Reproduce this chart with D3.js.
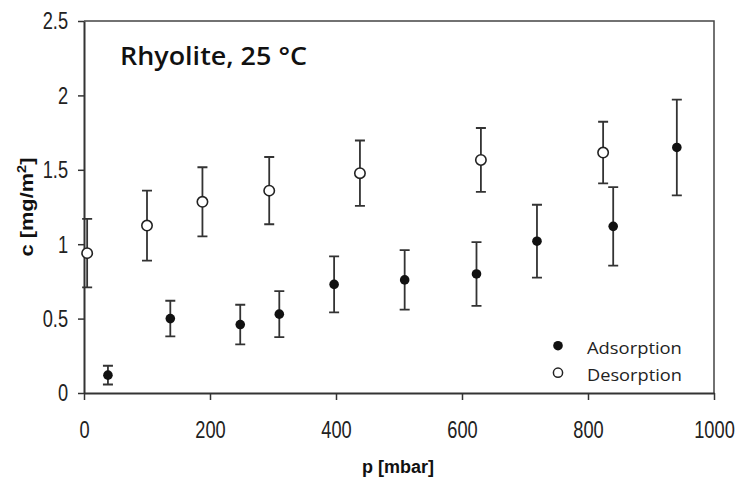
<!DOCTYPE html>
<html>
<head>
<meta charset="utf-8">
<script src="https://cdn.jsdelivr.net/npm/d3@7"></script>
<style>
  html, body { margin: 0; padding: 0; background: #fff; }
  svg { display: block; }
</style>
</head>
<body>
<svg id="chart" width="739" height="485"></svg>
<script>
// Adsorption isotherm (filled markers)
const adsP   = [38, 137, 248, 310, 397, 509, 623, 719, 840, 941];
const adsC   = [0.12, 0.50, 0.46, 0.53, 0.73, 0.76, 0.80, 1.02, 1.12, 1.65];
const adsErr = [0.063, 0.12, 0.133, 0.155, 0.188, 0.20, 0.214, 0.245, 0.264, 0.322];

// Desorption branch (open markers)
const desP   = [5, 100, 188, 294, 438, 630, 824];
const desC   = [0.94, 1.125, 1.285, 1.36, 1.477, 1.566, 1.616];
const desErr = [0.23, 0.235, 0.232, 0.226, 0.22, 0.215, 0.207];

const xTicks = [0, 200, 400, 600, 800, 1000];
const yTicks = [0, 0.5, 1, 1.5, 2, 2.5];
const yTickLabels = ["0", "0.5", "1", "1.5", "2", "2.5"];

const titleText = "Rhyolite, 25 \u00B0C";
const legendLabels = ["Adsorption", "Desorption"];

const ink = "#222";
const plotL = 84, plotT = 21, plotR = 714, plotB = 393;

const svg = d3.select("#chart");
const x = d3.scaleLinear().domain([0, 1000]).range([plotL, plotR]);
const y = d3.scaleLinear().domain([0, 2.5]).range([plotB, plotT]);

// Squeeze a text element horizontally to a given width, about an anchor x
function fitWidth(sel, w, ax) {
  const n = sel.node();
  const len = n.getComputedTextLength();
  const s = w / len;
  sel.attr("transform", `translate(${ax},0) scale(${s},1) translate(${-ax},0)`);
}

// Frame: top and right border lines
svg.append("path")
  .attr("d", `M${plotL},${plotT}H${plotR}V${plotB}`)
  .attr("fill", "none").attr("stroke", "#444").attr("stroke-width", 1.5);

// Axes
const xAxis = svg.append("g")
  .attr("transform", `translate(0,${plotB})`)
  .call(d3.axisBottom(x).tickValues(xTicks).tickSize(7).tickSizeOuter(0).tickPadding(21).tickFormat(d3.format("d")));
const yAxis = svg.append("g")
  .attr("transform", `translate(${plotL},0)`)
  .call(d3.axisLeft(y).tickValues(yTicks).tickSize(6).tickSizeOuter(0).tickPadding(15)
    .tickFormat((d, i) => yTickLabels[i]));

[xAxis, yAxis].forEach(g => {
  g.select(".domain").attr("stroke", "#333").attr("stroke-width", 2);
  g.selectAll(".tick line").attr("stroke", "#333").attr("stroke-width", 1.5);
  g.selectAll(".tick text")
    .attr("fill", ink)
    .style("font-family", "'Liberation Sans', Arial, sans-serif")
    .style("font-size", "24px")
    .attr("transform", "scale(0.76,1)");
});
xAxis.selectAll(".tick text").attr("dy", "0.71em");
yAxis.selectAll(".tick text").attr("dy", "0.33em");

// Error bars
function errorBars(P, C, E) {
  const g = svg.append("g").attr("stroke", "#333").attr("stroke-width", 1.8).attr("fill", "none");
  const d = P.map((p, i) => ({ p, c: C[i], e: E[i] }));
  g.selectAll("path").data(d).join("path")
    .attr("d", v => {
      const cx = x(v.p), y1 = y(v.c + v.e), y0 = y(v.c - v.e);
      return `M${cx},${y1}V${y0}M${cx - 5},${y1}H${cx + 5}M${cx - 5},${y0}H${cx + 5}`;
    });
  return d;
}
const adsData = errorBars(adsP, adsC, adsErr);
const desData = errorBars(desP, desC, desErr);

svg.append("g").selectAll("circle").data(adsData).join("circle")
  .attr("cx", d => x(d.p)).attr("cy", d => y(d.c)).attr("r", 4.8)
  .attr("fill", "#111");
svg.append("g").selectAll("circle").data(desData).join("circle")
  .attr("cx", d => x(d.p)).attr("cy", d => y(d.c)).attr("r", 5.2)
  .attr("fill", "#fff").attr("stroke", "#222").attr("stroke-width", 1.6);

// Title
const title = svg.append("text")
  .attr("x", 120).attr("y", 65)
  .attr("fill", "#111")
  .style("font-family", "'Open Sans', sans-serif")
  .style("font-weight", 600)
  .style("font-size", "25.5px")
  .text(titleText);
fitWidth(title, 187, 120);

// Legend
const legY = [345.7, 372.7];
svg.append("circle").attr("cx", 558).attr("cy", legY[0]).attr("r", 4.8).attr("fill", "#111");
svg.append("circle").attr("cx", 558).attr("cy", legY[1]).attr("r", 4.6)
  .attr("fill", "#fff").attr("stroke", "#222").attr("stroke-width", 1.5);
legendLabels.forEach((t, i) => {
  const el = svg.append("text")
    .attr("x", 587).attr("y", legY[i] + 8.3)
    .attr("fill", ink)
    .style("font-family", "'Open Sans', sans-serif")
    .style("font-size", "17px")
    .text(t);
  fitWidth(el, 95, 587);
});

// Axis titles
const xTitle = svg.append("text")
  .attr("x", 398).attr("y", 473)
  .attr("text-anchor", "middle")
  .attr("fill", "#111")
  .style("font-family", "'Liberation Sans', Arial, sans-serif")
  .style("font-weight", "bold")
  .style("font-size", "18px")
  .text("p [mbar]");
fitWidth(xTitle, 72, 398);

const yTitleG = svg.append("g").attr("transform", "translate(33,207) rotate(-90)");
const yTitle = yTitleG.append("text")
  .attr("x", 0).attr("y", 0)
  .attr("text-anchor", "middle")
  .attr("fill", "#111")
  .style("font-family", "'Liberation Sans', Arial, sans-serif")
  .style("font-weight", "bold")
  .style("font-size", "18px");
yTitle.append("tspan").text("c [mg/m");
yTitle.append("tspan").attr("dy", -7).style("font-size", "12px").text("2");
yTitle.append("tspan").attr("dy", 7).text("]");
fitWidth(yTitle, 99, 0);
</script>
</body>
</html>
